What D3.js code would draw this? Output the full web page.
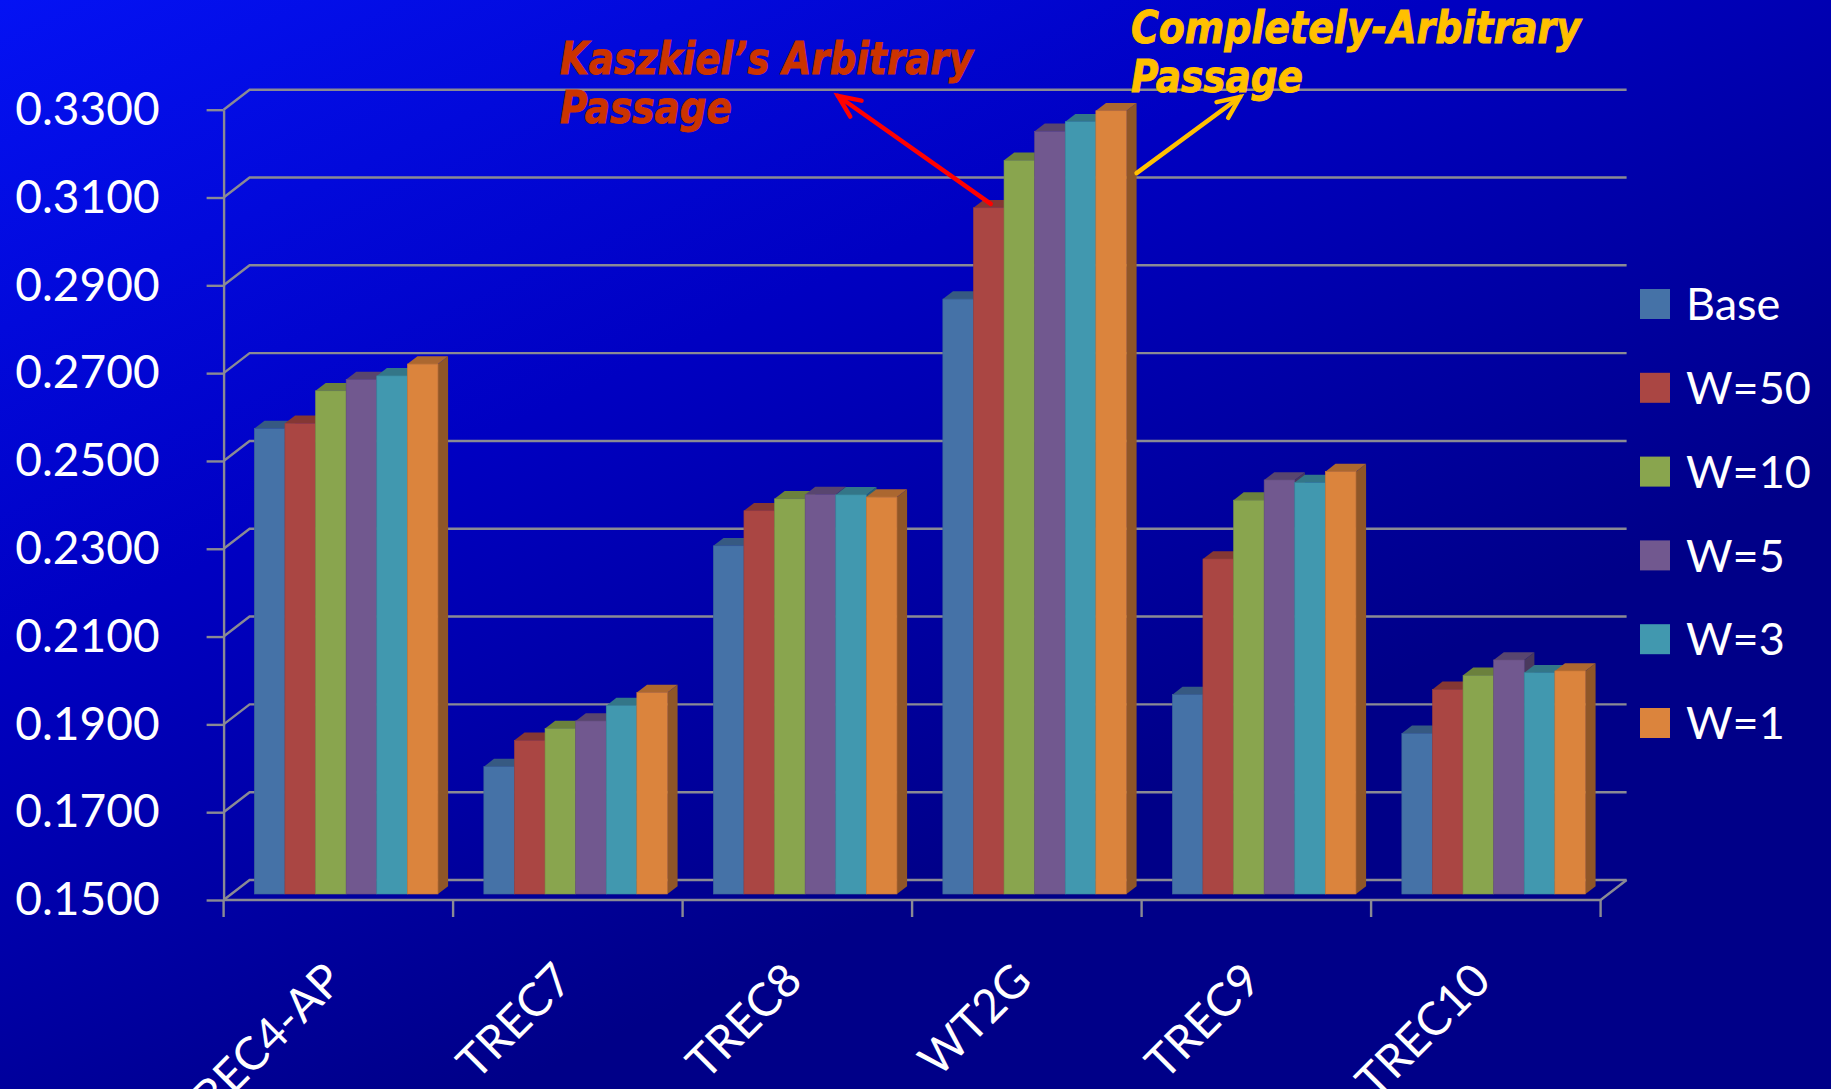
<!DOCTYPE html>
<html>
<head>
<meta charset="utf-8">
<script src="https://cdn.jsdelivr.net/npm/d3@7"></script>
<style>
  html, body { margin: 0; padding: 0; overflow: hidden; }
  svg { display: block; }
</style>
</head>
<body>
<svg id="chart"></svg>
<script>
const categories = ['TREC4-AP', 'TREC7', 'TREC8', 'WT2G', 'TREC9', 'TREC10'];
const seriesNames = ['Base', 'W=50', 'W=10', 'W=5', 'W=3', 'W=1'];
const base = [0.2560, 0.1790, 0.2293, 0.2855, 0.1954, 0.1866];
const w50  = [0.2572, 0.1850, 0.2373, 0.3063, 0.2263, 0.1966];
const w10  = [0.2646, 0.1877, 0.2400, 0.3171, 0.2397, 0.1998];
const w5   = [0.2672, 0.1894, 0.2410, 0.3237, 0.2443, 0.2033];
const w3   = [0.2680, 0.1929, 0.2409, 0.3259, 0.2437, 0.2004];
const w1   = [0.2707, 0.1959, 0.2404, 0.3284, 0.2462, 0.2008];
const seriesValues = [base, w50, w10, w5, w3, w1];
const yTicks = [0.15, 0.17, 0.19, 0.21, 0.23, 0.25, 0.27, 0.29, 0.31, 0.33];
const seriesColors = ['#4572A7', '#AA4643', '#89A54E', '#71588F', '#4198AF', '#DB843D'];

const width = 1831, height = 1089;

const svg = d3.select('#chart')
  .attr('width', width)
  .attr('height', height);

const defs = svg.append('defs');
const bg = defs.append('linearGradient')
  .attr('id', 'bg')
  .attr('gradientUnits', 'userSpaceOnUse')
  .attr('x1', 0).attr('y1', 0)
  .attr('x2', 500).attr('y2', height);
bg.append('stop').attr('offset', 0).attr('stop-color', '#0412f4');
bg.append('stop').attr('offset', 0.5).attr('stop-color', '#0000c2');
bg.append('stop').attr('offset', 1).attr('stop-color', '#000088');

svg.append('rect')
  .attr('width', width)
  .attr('height', height)
  .attr('fill', 'url(#bg)');

// front plane scales, depth is an oblique offset
const x = d3.scaleBand()
  .domain(categories)
  .range([223.6, 1600.6]);

const xs = d3.scaleBand()
  .domain(seriesNames)
  .range([0, x.bandwidth()])
  .paddingOuter(0.75);

const y = d3.scaleLinear()
  .domain([0.15, 0.33])
  .range([900, 109.7]);

const DX = 26, DY = -20;
const z0 = 0.3, z1 = 0.69;
const proj = (px, v, z) => [px + z * DX, y(v) + z * DY];

const gridColor = '#8a8a94';
const g = svg.append('g');

// walls: gridlines on back wall with a diagonal from the front axis
const [xL, xR] = x.range();
g.append('g')
  .selectAll('path')
  .data(yTicks)
  .join('path')
  .attr('fill', 'none')
  .attr('stroke', gridColor)
  .attr('stroke-width', 2.4)
  .attr('d', d => d3.line()([proj(xL, d, 0), proj(xL, d, 1), proj(xR, d, 1)]));

// floor front edge and right edge
g.append('path')
  .attr('fill', 'none')
  .attr('stroke', gridColor)
  .attr('stroke-width', 2.4)
  .attr('d', d3.line()([proj(xL, 0.15, 0), proj(xR, 0.15, 0), proj(xR, 0.15, 1)]));

// y axis at the front
const yAxis = g.append('g')
  .attr('transform', `translate(${xL},0)`)
  .call(d3.axisLeft(y)
    .tickValues(yTicks)
    .tickFormat(d3.format('.4f'))
    .tickSize(17)
    .tickSizeOuter(0)
    .tickPadding(47));
yAxis.select('.domain').attr('stroke', gridColor).attr('stroke-width', 2.4);
yAxis.selectAll('.tick line').attr('stroke', gridColor).attr('stroke-width', 2.4);
yAxis.selectAll('.tick text')
  .attr('fill', '#ffffff')
  .style('font-family', 'Lato, "Open Sans", sans-serif')
  .style('font-size', '46px');

// category boundary ticks
const bounds = categories.map(c => x(c)).concat([xR]);
g.append('g')
  .selectAll('line')
  .data(bounds)
  .join('line')
  .attr('x1', d => d).attr('x2', d => d)
  .attr('y1', y(0.15)).attr('y2', y(0.15) + 17)
  .attr('stroke', gridColor)
  .attr('stroke-width', 2.4);

// category labels
g.append('g')
  .selectAll('text')
  .data(categories)
  .join('text')
  .attr('transform', d => `translate(${x(d) + x.bandwidth() / 2 + 7},${983}) rotate(-45)`)
  .attr('text-anchor', 'end')
  .attr('fill', '#ffffff')
  .style('font-family', 'Lato, "Open Sans", sans-serif')
  .style('font-size', '46px')
  .text(d => d);

// 3D bars, drawn left to right so later fronts hide earlier sides
const bars = [];
categories.forEach((c, ci) => {
  seriesNames.forEach((s, si) => {
    bars.push({ cat: c, series: s, si, value: seriesValues[si][ci] });
  });
});

const barG = g.append('g');
const bw = xs.bandwidth();
bars.forEach(b => {
  const left = x(b.cat) + xs(b.series);
  const right = left + bw;
  const col = d3.color(seriesColors[b.si]);
  const v = b.value;
  const bar = barG.append('g');
  // side
  bar.append('path')
    .attr('fill', col.darker(1.2))
    .attr('d', d3.line()([proj(right, 0.15, z0), proj(right, v, z0), proj(right, v, z1), proj(right, 0.15, z1)]) + 'Z');
  // top
  bar.append('path')
    .attr('fill', col.darker(0.7))
    .attr('d', d3.line()([proj(left, v, z0), proj(right, v, z0), proj(right, v, z1), proj(left, v, z1)]) + 'Z');
  // front
  const [fx, fy] = proj(left, v, z0);
  const [, fb] = proj(left, 0.15, z0);
  bar.append('rect')
    .attr('x', fx)
    .attr('y', fy)
    .attr('width', bw)
    .attr('height', fb - fy)
    .attr('fill', col)
    .attr('stroke', col.darker(0.3))
    .attr('stroke-width', 0.6);
});

// legend
const legend = svg.append('g')
  .selectAll('g')
  .data(seriesNames)
  .join('g')
  .attr('transform', (d, i) => `translate(1640,${304 + i * 83.8})`);
legend.append('rect')
  .attr('x', 0).attr('y', -15)
  .attr('width', 30).attr('height', 30)
  .attr('fill', (d, i) => seriesColors[i]);
legend.append('text')
  .attr('x', 46)
  .attr('dy', '0.36em')
  .attr('fill', '#ffffff')
  .style('font-family', 'Lato, "Open Sans", sans-serif')
  .style('font-size', '45px')
  .text(d => d);

// annotations
const annFont = '"DejaVu Sans Condensed", "DejaVu Sans", sans-serif';
function annotate(lines, widths, ax, ay, color) {
  const t = svg.append('text')
    .attr('fill', color)
    .attr('stroke', color)
    .attr('stroke-width', 0.9)
    .style('font-family', annFont)
    .style('font-weight', 'bold')
    .style('font-style', 'italic')
    .style('font-size', '45px');
  lines.forEach((l, i) => {
    t.append('tspan')
      .attr('x', ax)
      .attr('y', ay + i * 49)
      .attr('textLength', widths[i])
      .attr('lengthAdjust', 'spacingAndGlyphs')
      .text(l);
  });
}
annotate(['Kaszkiel\u2019s Arbitrary', 'Passage'], [413, 172], 560, 74, '#cc3300');
annotate(['Completely-Arbitrary', 'Passage'], [450, 172], 1131, 43, '#ffc000');

function arrow(from, to, color) {
  const a = svg.append('g').attr('stroke', color).attr('stroke-width', 4.5)
    .attr('fill', 'none').attr('stroke-linecap', 'round');
  a.append('line')
    .attr('x1', from[0]).attr('y1', from[1])
    .attr('x2', to[0]).attr('y2', to[1]);
  const ang = Math.atan2(to[1] - from[1], to[0] - from[0]);
  const hl = 24, spread = 0.42;
  const h1 = [to[0] - hl * Math.cos(ang - spread), to[1] - hl * Math.sin(ang - spread)];
  const h2 = [to[0] - hl * Math.cos(ang + spread), to[1] - hl * Math.sin(ang + spread)];
  a.append('path').attr('d', d3.line()([h1, to, h2]));
}

// arrows start from the WT2G bars they point out
const wi = categories.indexOf('WT2G');
const redFrom = proj(x('WT2G') + xs('W=50') + bw * 0.4, w50[wi], (z0 + z1) / 2);
const yelFrom = proj(x('WT2G') + xs('W=1') + bw, w1[wi] - 0.016, z1);
arrow(redFrom, [838, 96], '#ff0000');
arrow(yelFrom, [1240, 97], '#ffc000');
</script>
</body>
</html>
